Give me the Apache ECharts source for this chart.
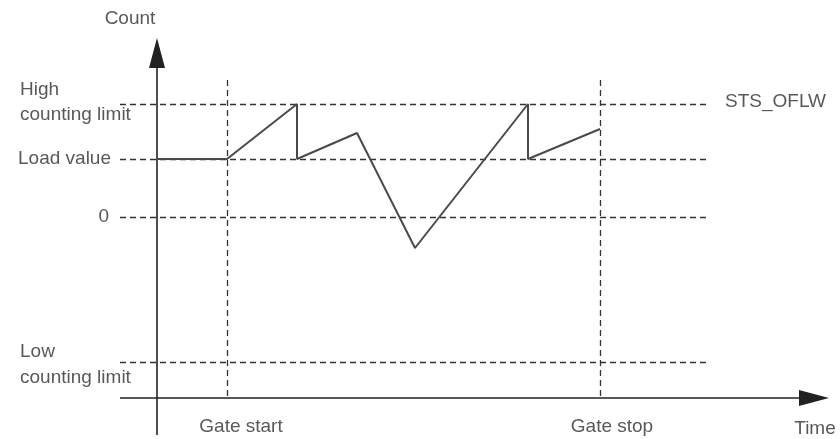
<!DOCTYPE html>
<html>
<head>
<meta charset="utf-8">
<script src="https://cdn.jsdelivr.net/npm/echarts@6/dist/echarts.min.js"></script>
<style>html,body{margin:0;padding:0;background:#fff}#c{width:840px;height:439px}</style>
</head>
<body>
<div id="c"></div>
<script>
// Axis extents (time units, count units)
const TIME_RANGE = [-157, 683];
const COUNT_RANGE = [-222, 217];

// Counter limits / levels
const HIGH_LIMIT = 113;
const LOAD_VALUE = 58;
const ZERO = 0;
const LOW_LIMIT = -145;

// Gate events (time)
const GATE_START = 70;
const GATE_STOP = 443;

// Counter profile
const profileTime  = [0, 70, 140, 140, 200, 258, 371, 371, 443];
const profileCount = [58, 58, 113, 58, 84, -31, 113, 58, 88];

// Extent of reference (dashed) lines
const REF_T0 = -37, REF_T1 = 553;
const GATE_V0 = 137, GATE_V1 = -181;

// Axes
const AXIS_X_LEVEL = -181;   // count value where time axis runs
const AXIS_X_T0 = -37, AXIS_X_T1 = 657;
const AXIS_Y_V0 = -218, AXIS_Y_V1 = 164;

// Text labels
const levelLabels = ['High\ncounting limit', 'Load value', '0', 'Low\ncounting limit'];
const axisTitles = ['Count', 'Time'];
const gateLabels = ['Gate start', 'Gate stop'];
const flagLabel = 'STS_OFLW';

const FONT = {fontFamily: 'Liberation Sans, Arial, sans-serif', fontSize: 19, color: '#2e2e2e'};
const dash = {color: '#333', width: 1.3, type: [6, 4]};

const hLine = v => [{coord: [REF_T0, v]}, {coord: [REF_T1, v]}];
const vLine = t => [{coord: [t, GATE_V0]}, {coord: [t, GATE_V1]}];

const labelData = [
  {value: [-137, HIGH_LIMIT + 2], text: levelLabels[0], pos: 'right', lh: 25},
  {value: [-46, LOAD_VALUE], text: levelLabels[1], pos: 'left'},
  {value: [-48, ZERO], text: levelLabels[2], pos: 'left'},
  {value: [-137, LOW_LIMIT - 3], text: levelLabels[3], pos: 'right', lh: 26},
  {value: [-27, 198], text: axisTitles[0], pos: 'inside'},
  {value: [658, -212], text: axisTitles[1], pos: 'inside'},
  {value: [GATE_START + 14, -210], text: gateLabels[0], pos: 'inside'},
  {value: [GATE_STOP + 12, -210], text: gateLabels[1], pos: 'inside'},
  {value: [568, HIGH_LIMIT + 2], text: flagLabel, pos: 'right'}
].map(d => ({
  value: d.value,
  label: {position: d.pos, distance: 0, formatter: d.text, lineHeight: d.lh || 22, align: d.pos === 'right' ? 'left' : (d.pos === 'left' ? 'right' : 'center')}
}));

const chart = echarts.init(document.getElementById('c'), null, {renderer: 'canvas'});
chart.setOption({
  animation: false,
  backgroundColor: '#fff',
  grid: {left: 0, right: 0, top: 0, bottom: 0},
  xAxis: {type: 'value', min: TIME_RANGE[0], max: TIME_RANGE[1], show: false},
  yAxis: {type: 'value', min: COUNT_RANGE[0], max: COUNT_RANGE[1], show: false},
  series: [
    {
      type: 'line', silent: true, data: [],
      markLine: {
        silent: true, symbol: 'none', label: {show: false},
        lineStyle: dash,
        data: [hLine(HIGH_LIMIT), hLine(LOAD_VALUE), hLine(ZERO), hLine(LOW_LIMIT), vLine(GATE_START), vLine(GATE_STOP)]
      }
    },
    {
      type: 'line', silent: true, data: [],
      markLine: {
        silent: true, symbol: ['none', 'triangle'], symbolSize: [16, 30], label: {show: false},
        lineStyle: {color: '#222', width: 1.6, type: 'solid'},
        data: [
          [{coord: [AXIS_X_T0, AXIS_X_LEVEL]}, {coord: [AXIS_X_T1, AXIS_X_LEVEL]}],
          [{coord: [0, AXIS_Y_V0]}, {coord: [0, AXIS_Y_V1]}]
        ]
      }
    },
    {
      type: 'line', silent: true, symbol: 'none', z: 5,
      lineStyle: {color: '#4a4a4a', width: 2},
      data: profileTime.map((t, i) => [t, profileCount[i]])
    },
    {
      type: 'scatter', silent: true, symbolSize: 0, clip: false,
      label: Object.assign({show: true}, FONT),
      data: labelData
    }
  ]
});
</script>
</body>
</html>
